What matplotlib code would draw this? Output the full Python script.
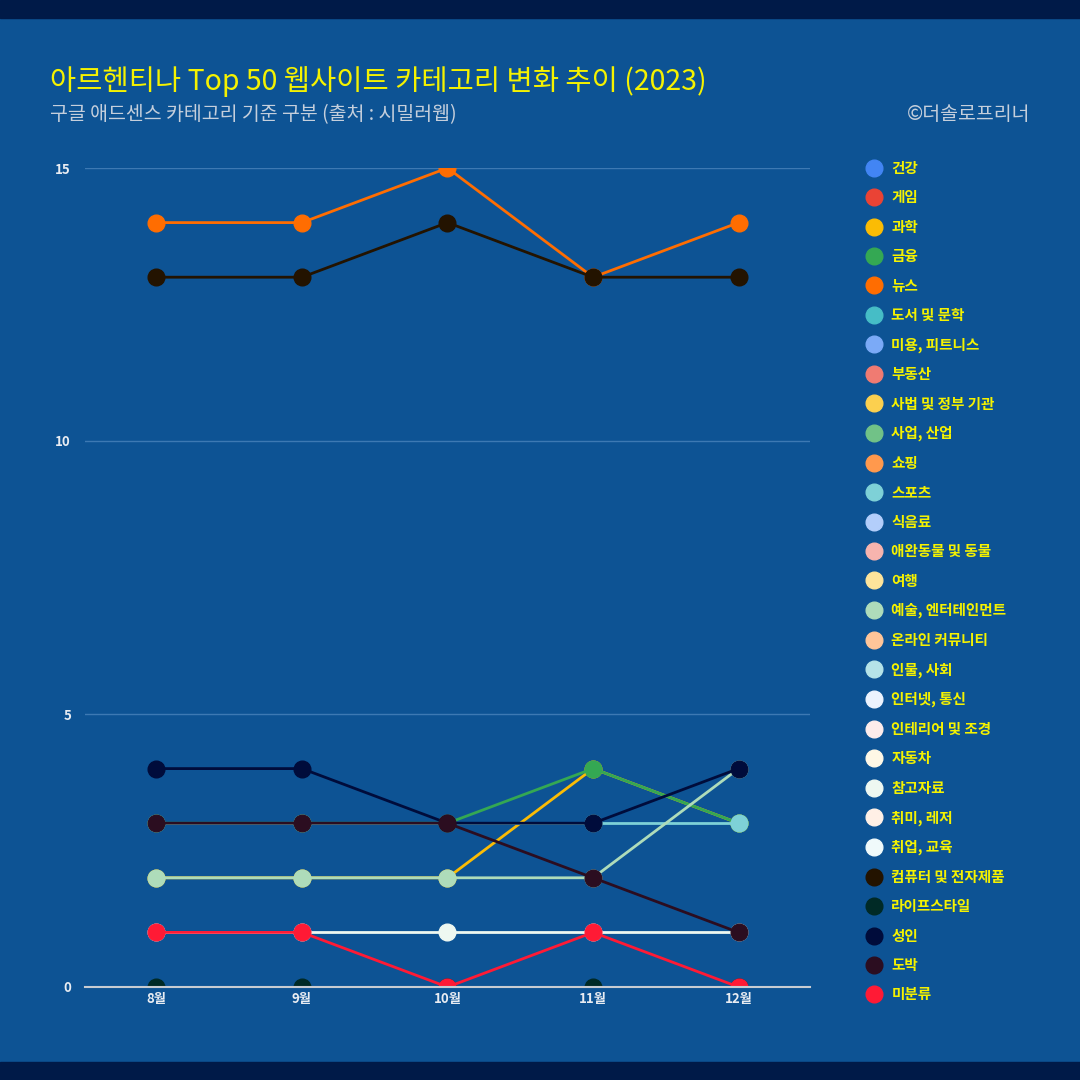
import numpy as np
import matplotlib.pyplot as plt
from matplotlib.lines import Line2D
from matplotlib.patches import Rectangle

plt.rcParams['font.family'] = ['Noto Sans CJK KR', 'DejaVu Sans']

# data
months = ['8월', '9월', '10월', '11월', '12월']
categories = ['건강', '게임', '과학', '금융', '뉴스', '도서 및 문학', '미용, 피트니스', '부동산',
              '사법 및 정부 기관', '사업, 산업', '쇼핑', '스포츠', '식음료', '애완동물 및 동물',
              '여행', '예술, 엔터테인먼트', '온라인 커뮤니티', '인물, 사회', '인터넷, 통신',
              '인테리어 및 조경', '자동차', '참고자료', '취미, 레저', '취업, 교육',
              '컴퓨터 및 전자제품', '라이프스타일', '성인', '도박', '미분류']
colors = ['#4285f4', '#ea4335', '#fbbc04', '#34a853', '#ff6d01', '#46bdc6', '#7baaf7', '#f07b72',
          '#fcd04f', '#71c287', '#ff994d', '#7ed1d7', '#b3cefb', '#f7b4ae',
          '#fde49b', '#aedcba', '#ffc599', '#b5e3e8', '#ecf3fe',
          '#fdeceb', '#fff8e6', '#eef8f1', '#fff0e6', '#f0fafb',
          '#231300', '#002a26', '#000c3b', '#2b0d20', '#ff1a35']
values = {
    '과학': [2, 2, 2, 4, 3],
    '금융': [3, 3, 3, 4, 3],
    '뉴스': [14, 14, 15, 13, 14],
    '스포츠': [3, 3, 3, 3, 3],
    '예술, 엔터테인먼트': [2, 2, 2, 2, 4],
    '참고자료': [1, 1, 1, 1, 1],
    '컴퓨터 및 전자제품': [13, 13, 14, 13, 13],
    '라이프스타일': [0, 0, 0, 0, 0],
    '성인': [4, 4, 3, 3, 4],
    '도박': [3, 3, 3, 2, 1],
    '미분류': [1, 1, 0, 1, 0],
}

bg = '#0d5394'
fig = plt.figure(figsize=(10.8, 10.8), dpi=100, facecolor=bg)
fig.patches.append(Rectangle((0, 1 - 18/1080), 1, 18/1080, transform=fig.transFigure, color='#001a48', zorder=0))
fig.patches.append(Rectangle((0, 0), 1, 18/1080, transform=fig.transFigure, color='#001a48', zorder=0))

ax = fig.add_axes([85/1080, 1 - 987/1080, 725/1080, 819/1080])
ax.set_facecolor(bg)
x = np.arange(len(months))
for cat, col in zip(categories, colors):
    if cat in values:
        ax.plot(x, values[cat], color=col, lw=2, marker='o', ms=12, mec=col, zorder=3)

ax.set_xlim(-0.49, 4.49)
ax.set_ylim(0, 15)
ax.set_yticks([0, 5, 10, 15])
ax.set_xticks(x)
ax.set_xticklabels(months)
ax.grid(axis='y', color='#3d79b3', lw=1)
ax.set_axisbelow(True)
for s in ['top', 'right', 'left']:
    ax.spines[s].set_visible(False)
ax.spines['bottom'].set_color('#c8ccd2')
ax.spines['bottom'].set_linewidth(1.5)
ax.spines['bottom'].set_zorder(4)
ax.tick_params(axis='both', length=0, colors='#e8ecf2', labelsize=9.5)
ax.tick_params(axis='y', pad=10)
for lab in ax.get_xticklabels() + ax.get_yticklabels():
    lab.set_fontweight('bold')

fig.text(50/1080, 1 - 82/1080, '아르헨티나 Top 50 웹사이트 카테고리 변화 추이 (2023)', color='#f5f200',
         fontsize=20.5, va='center', ha='left')
fig.text(50/1080, 1 - 115/1080, '구글 애드센스 카테고리 기준 구분 (출처 : 시밀러웹)', color='#c5cfdc',
         fontsize=14, va='center', ha='left')
fig.text(1030/1080, 1 - 115/1080, '©더솔로프리너', color='#c5cfdc',
         fontsize=14, va='center', ha='right')

handles = [Line2D([], [], ls='none', marker='o', ms=12, color=c) for c in colors]
leg = fig.legend(handles, categories, loc='upper left', bbox_to_anchor=(857/1080, 1 - 154/1080),
                 frameon=False, labelcolor='#f5f200', fontsize=10.5, labelspacing=0.92,
                 handletextpad=0.45, handlelength=1.5, borderaxespad=0)
for t in leg.get_texts():
    t.set_fontweight('bold')

fig.savefig('out.png', dpi=100, facecolor=bg)
